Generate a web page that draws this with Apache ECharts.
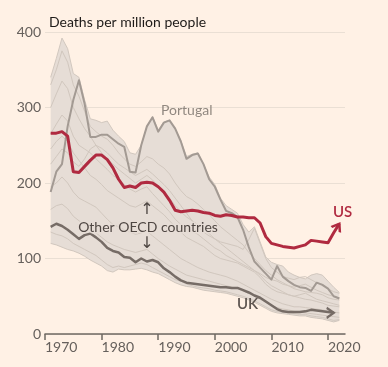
<!DOCTYPE html>
<html><head><meta charset="utf-8">
<script src="https://cdn.jsdelivr.net/npm/echarts@6/dist/echarts.min.js"></script>
<style>html,body{margin:0;padding:0;background:#FFF1E5}#c{width:388px;height:367px}</style>
</head><body><div id="c"></div>
<script>
// Category axis: years 1970-2023
const years = [];
for (let y = 1970; y <= 2023; y++) years.push(String(y));
const xTickLabels = ['1970','1980','1990','2000','2010','2020'];
const yTickLabels = [0, 100, 200, 300, 400];

// Series values, starting 1971
const usValues = [266,266,268,262,215,214,222,230,237,237,
  231,220,205,194,196,194,200,201,200,195,
  188,177,164,162,163,164,163,161,160,157,
  156,158,157,155,155,154,154,147,129,120,
  118,116,115,114,116,118,124,123,122,121,
  134,146];
const ukValues = [142,146,143,138,132,126,131,133,128,122,
  114,110,108,102,101,95,100,96,98,95,
  87,82,76,71,68,67,66,65,64,63,
  62,62,61,61,58,55,51,48,43,38,
  33,30,29,29,29,30,32,31,30,29,
  28];
const portugalValues = [188,215,225,275,310,336,305,261,261,264,
  264,258,252,248,215,214,250,275,287,268,
  280,283,272,255,232,237,239,225,205,195,
  178,163,160,155,138,115,96,88,80,72,
  90,76,70,65,62,61,57,68,65,60,
  50,47];
// Envelope of other OECD countries
const bandUpper = [340,365,392,378,345,340,310,285,283,280,
  282,270,262,255,240,238,250,275,288,270,
  281,283,272,256,235,238,240,225,208,198,
  180,170,165,160,145,135,142,122,102,95,
  92,90,82,78,75,73,78,80,78,70,
  62,55];
const bandLower = [120,118,115,112,110,107,103,98,94,90,
  84,82,86,85,85,86,87,85,82,80,
  76,72,68,65,63,62,60,58,57,56,
  55,54,52,50,48,45,42,38,34,30,
  28,27,26,25,24,24,22,21,20,18,
  16,18];
// Individual other OECD countries (faint lines)
const oecdA = [330,350,375,360,330,315,295,275,268,262,
  258,250,240,232,225,222,228,235,232,225,
  220,212,200,190,182,178,172,165,158,150,
  142,136,130,124,118,108,100,92,84,78,
  72,68,64,60,58,56,55,54,52,48,
  46,45];
const oecdB = [300,318,335,325,300,285,272,262,250,240,
  232,225,218,212,206,200,205,210,204,196,
  188,180,170,162,155,150,145,140,133,126,
  120,114,108,102,96,90,84,78,70,64,
  60,56,52,50,48,46,45,43,41,38,
  37,36];
const oecdC = [265,278,290,282,262,250,245,240,232,225,
  218,210,205,198,192,188,192,195,186,178,
  170,162,152,145,140,136,132,126,120,114,
  110,104,100,96,92,88,84,80,75,72,
  70,66,64,62,64,66,62,58,55,52,
  50,48];
const oecdD = [225,235,245,240,228,222,232,245,250,246,
  240,232,225,220,215,210,214,218,212,205,
  198,190,180,170,160,150,142,135,130,126,
  122,120,118,116,112,125,140,120,100,88,
  82,76,74,72,75,76,72,68,66,60,
  56,54];
const oecdE = [195,200,208,200,188,180,176,172,168,160,
  152,145,142,138,135,132,134,136,130,124,
  118,112,106,100,96,92,88,85,82,80,
  78,76,73,70,66,62,58,54,50,46,
  43,40,38,36,36,35,34,33,32,30,
  29,28];
const oecdF = [165,170,172,166,156,150,145,140,134,128,
  122,118,115,112,110,108,110,112,106,100,
  95,90,86,82,78,76,74,72,70,68,
  66,64,62,60,57,54,50,46,42,38,
  35,33,32,30,29,28,27,26,25,24,
  23,22];
const oecdG = [135,132,130,126,120,116,112,108,104,98,
  92,88,90,88,90,92,94,92,88,84,
  80,76,72,70,66,64,62,61,60,58,
  57,56,54,52,50,47,44,40,36,32,
  30,29,28,27,26,26,24,23,22,20,
  18,19];
const oecdH = [245,255,262,255,240,230,220,210,205,198,
  190,185,180,175,170,168,172,176,170,164,
  158,150,142,135,128,124,120,116,110,104,
  100,98,96,94,90,86,82,75,66,60,
  56,54,52,50,52,54,50,46,44,42,
  40,38];

const START = 1971;
function pad(arr) {
  return years.map(y => {
    const i = +y - START;
    return i >= 0 && i < arr.length ? arr[i] : null;
  });
}

const US_C = '#B02A40', UK_C = '#766C66', PT_C = '#A39A93';
const FAINT = '#D1C7BE', FILL = '#E6DDD6';
const arrowPath = 'path://M0,10 L5,0 L10,10';

function withArrow(arr, color, rot, offset) {
  const d = pad(arr);
  const idx = START - 1970 + arr.length - 1;
  d[idx] = {
    value: d[idx], symbol: arrowPath, symbolSize: [10, 7],
    symbolRotate: rot, symbolOffset: offset,
    itemStyle: { color: 'rgba(0,0,0,0)', borderColor: color, borderWidth: 2.3, borderJoin: 'miter' }
  };
  return d;
}

const bandDiff = bandUpper.map((v, i) => v - bandLower[i]);
const faintSets = [oecdA, oecdB, oecdC, oecdD, oecdE, oecdF, oecdG, oecdH];

const series = [
  { type: 'line', data: pad(bandLower), stack: 'band', symbol: 'none', silent: true,
    lineStyle: { color: FAINT, width: 1 }, z: 1 },
  { type: 'line', data: pad(bandDiff), stack: 'band', symbol: 'none', silent: true,
    lineStyle: { color: '#D2C8BF', width: 1 }, areaStyle: { color: FILL, opacity: 1 }, z: 1 }
];
faintSets.forEach(s => series.push({
  type: 'line', data: pad(s), symbol: 'none', silent: true,
  lineStyle: { color: FAINT, width: 1 }, z: 2
}));
series.push({ type: 'line', name: 'Portugal', data: pad(portugalValues), symbol: 'none', silent: true,
  lineStyle: { color: PT_C, width: 2, join: 'round' }, z: 3 });
series.push({ type: 'line', name: 'UK', data: withArrow(ukValues, UK_C, -90, [-3.5, 0]),
  symbol: 'none', showSymbol: true, showAllSymbol: true, silent: true,
  lineStyle: { color: UK_C, width: 2.5, join: 'round' }, z: 4 });
series.push({ type: 'line', name: 'US', data: withArrow(usValues, US_C, -32, [-1.85, 2.97]),
  symbol: 'none', showSymbol: true, showAllSymbol: true, silent: true,
  lineStyle: { color: US_C, width: 3, join: 'round' }, z: 5 });

const FONT = 'Lato, "Noto Sans", sans-serif';
const chart = echarts.init(document.getElementById('c'), null, { renderer: 'canvas' });
chart.setOption({
  animation: false,
  backgroundColor: '#FFF1E5',
  title: { text: 'Deaths per million people', left: 44, top: 10,
    textStyle: { fontFamily: FONT, fontSize: 14, fontWeight: 'normal', color: '#1E1A18' } },
  grid: { left: 45, right: 43, top: 32, bottom: 33, containLabel: false },
  xAxis: {
    type: 'category', data: years, boundaryGap: false,
    axisLine: { lineStyle: { color: '#6F6862', width: 1.5 } },
    axisTick: { show: true, interval: (i, v) => xTickLabels.includes(v), length: 6,
      lineStyle: { color: '#6F6862', width: 1.5 } },
    axisLabel: { interval: (i, v) => xTickLabels.includes(v), align: 'left', margin: 6,
      color: '#66605C', fontSize: 14, fontFamily: FONT },
    splitLine: { show: false }
  },
  yAxis: {
    type: 'value', min: 0, max: 400, interval: 100,
    axisLine: { show: false }, axisTick: { show: false },
    axisLabel: { margin: 4, color: '#66605C', fontSize: 14, fontFamily: FONT,
      formatter: v => yTickLabels.includes(v) ? String(v) : '' },
    splitLine: { lineStyle: { color: '#EADFD4', width: 1 } }
  },
  series: series,
  graphic: [
    { type: 'text', x: 161, y: 110, z: 100, silent: true,
      style: { text: 'Portugal', align: 'left', verticalAlign: 'middle', font: '14px ' + FONT, fill: '#918880' } },
    { type: 'text', x: 333, y: 212, z: 100, silent: true,
      style: { text: 'US', align: 'left', verticalAlign: 'middle', font: '600 15px ' + FONT, fill: US_C } },
    { type: 'text', x: 237, y: 304, z: 100, silent: true,
      style: { text: 'UK', align: 'left', verticalAlign: 'middle', font: '600 15px ' + FONT, fill: '#5E5550' } },
    { type: 'text', x: 147, y: 210, z: 100, silent: true,
      style: { text: '↑', align: 'center', verticalAlign: 'middle', font: '16px "DejaVu Sans"', fill: '#4E4642' } },
    { type: 'text', x: 148, y: 227, z: 100, silent: true,
      style: { text: 'Other OECD countries', align: 'center', verticalAlign: 'middle', font: '14px ' + FONT,
        fill: '#4E4642', stroke: 'rgba(230,221,214,0.85)', lineWidth: 3 } },
    { type: 'text', x: 147, y: 244, z: 100, silent: true,
      style: { text: '↓', align: 'center', verticalAlign: 'middle', font: '16px "DejaVu Sans"', fill: '#4E4642' } }
  ]
});
</script></body></html>
